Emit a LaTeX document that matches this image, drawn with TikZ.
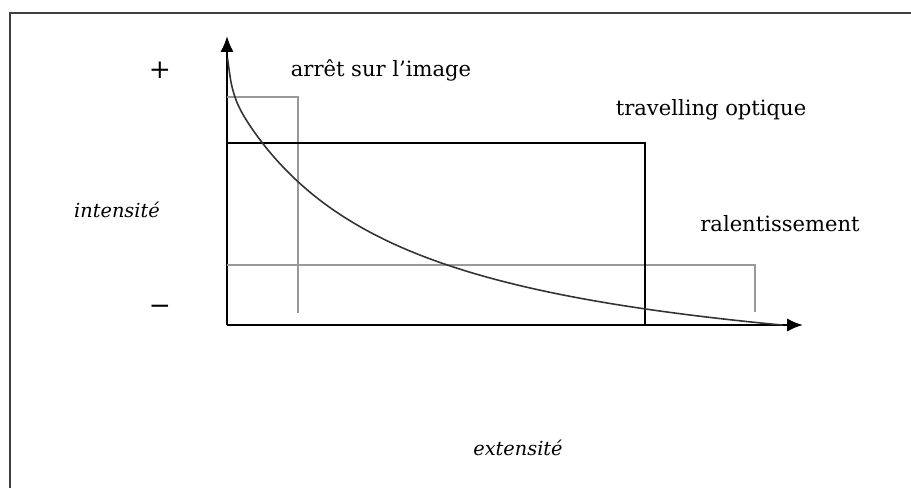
\documentclass[tikz,border=0pt]{standalone}
\usepackage{fontspec}
\setmainfont{DejaVu Serif}
\usetikzlibrary{arrows.meta}

\begin{document}
\begin{tikzpicture}[x=0.02cm, y=-0.02cm]
	\tikzset{axis/.style = {line width=1.2pt, -{Latex[length=9pt, width=7.5pt]}},
		boxlabel/.style = {font=\fontsize{12}{14}\selectfont, inner sep=0pt},
		sign/.style = {font=\fontsize{15}{17}\selectfont, inner sep=0pt},
		axisname/.style = {font=\itshape\fontsize{11}{13}\selectfont, inner sep=0pt},
		thin box/.style = {draw=gray!80, line width=0.6pt},
		thick box/.style = {draw=black, line width=0.9pt}}
	\useasboundingbox (0,0) rectangle (911,488);
	% frame
	\draw[line width=1.3pt, black!75] (10,488) -- (10,13) -- (911,13);
	% axes
	\coordinate (O) at (227,325);
	\coordinate (ytop) at (227,36);
	\coordinate (xend) at (803,325);
	\draw[axis] (O) -- (ytop);
	\draw[axis] (O) -- (xend);
	% boxes
	\draw[thin box] (227,97) -- (298,97) -- (298,313);
	\draw[thin box] (227,265) -- (755,265) -- (755,312);
	\draw[thick box] (227,143) -- (645,143) -- (645,325);
	% curve
	\draw[line width=0.9pt, black!80] plot[domain=0:555, samples=160, smooth]
		({227.5+\x}, {325 - 484.87/((\x+159)/100) + 68 - 30*exp(-\x/4)});
	% labels
	\node[sign] (plus) at (160,70) {+};
	\node[sign] (minus) at (160,310) {−};
	\node[boxlabel] (arret) at (381,70) {arrêt sur l'image};
	\node[boxlabel] (travelling) at (711,110) {travelling optique};
	\node[boxlabel] (ralenti) at (780,224) {ralentissement};
	\node[axisname] (intens) at (117,210) {intensité};
	\node[axisname] (extens) at (518,448) {extensité};
\end{tikzpicture}
\end{document}
